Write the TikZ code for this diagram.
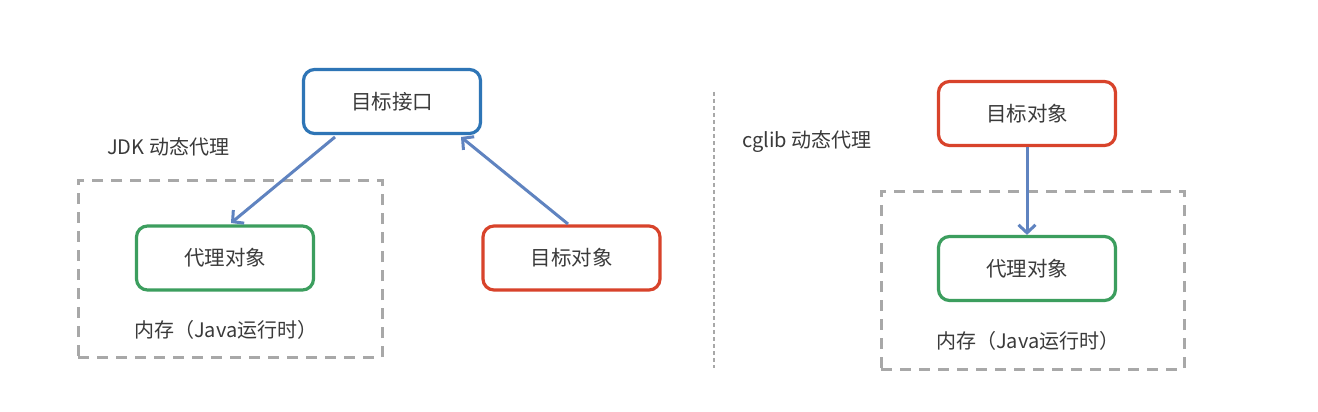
\documentclass[tikz,border=0pt]{standalone}
\usepackage{fontspec}
\setmainfont{Noto Sans CJK SC}
\usetikzlibrary{arrows.meta}
\definecolor{cblue}{HTML}{2E75B6}
\definecolor{cred}{HTML}{D8432B}
\definecolor{cgreen}{HTML}{3C9E5E}
\definecolor{carrow}{HTML}{5F83C0}
\definecolor{cgray}{HTML}{A8A8A8}
\definecolor{ctext}{HTML}{3A3A3A}
\tikzset{
  box/.style={draw, rounded corners=11pt, line width=3.2pt, minimum width=177pt, minimum height=64pt, inner sep=0pt, text=ctext, font=\fontsize{20.5}{24}\selectfont},
  bluebox/.style={box, draw=cblue},
  redbox/.style={box, draw=cred},
  greenbox/.style={box, draw=cgreen},
  memframe/.style={draw=cgray, line width=3pt, dash pattern=on 11pt off 8pt},
  lbl/.style={text=ctext, font=\fontsize{20}{23}\selectfont, inner sep=0pt, anchor=west},
  conn/.style={draw=carrow, line width=3pt, -{Straight Barb[length=8pt,width=17pt,line width=3pt]}},
}
\begin{document}
\begin{tikzpicture}[x=1pt,y=-1pt]
\useasboundingbox[fill=white] (0,0) rectangle (1318,412);
% left part
\node[bluebox] (iface) at (392,101.5) {目标接口};
\node[lbl] (jdk) at (107,147) {JDK 动态代理};
\node[memframe, minimum width=304pt, minimum height=177pt, inner sep=0pt] (memL) at (230,268.5) {};
\node[greenbox] (proxyL) at (225,258) {代理对象};
\node[lbl] (memLlbl) at (134,330) {内存（Java运行时）};
\node[redbox] (targetL) at (571.5,258) {目标对象};
\coordinate (a1s) at (335,137);
\coordinate (a1e) at (231,223);
\draw[conn] (a1s) -- (a1e);
\coordinate (a2s) at (568,224);
\coordinate (a2e) at (461,137);
\draw[conn] (a2s) -- (a2e);
% separator
\coordinate (sepT) at (714,92);
\coordinate (sepB) at (714,368);
\draw[cgray, line width=1.5pt, dash pattern=on 4pt off 3pt] (sepT) -- (sepB);
% right part
\node[lbl] (cglib) at (742,142) {cglib 动态代理};
\node[redbox] (targetR) at (1027,113.5) {目标对象};
\node[memframe, minimum width=303pt, minimum height=178pt, inner sep=0pt] (memR) at (1032.5,280) {};
\node[greenbox] (proxyR) at (1027,268.5) {代理对象};
\node[lbl] (memRlbl) at (936,341) {内存（Java运行时）};
\draw[conn] (targetR.south) -- (proxyR.north);
\end{tikzpicture}
\end{document}
